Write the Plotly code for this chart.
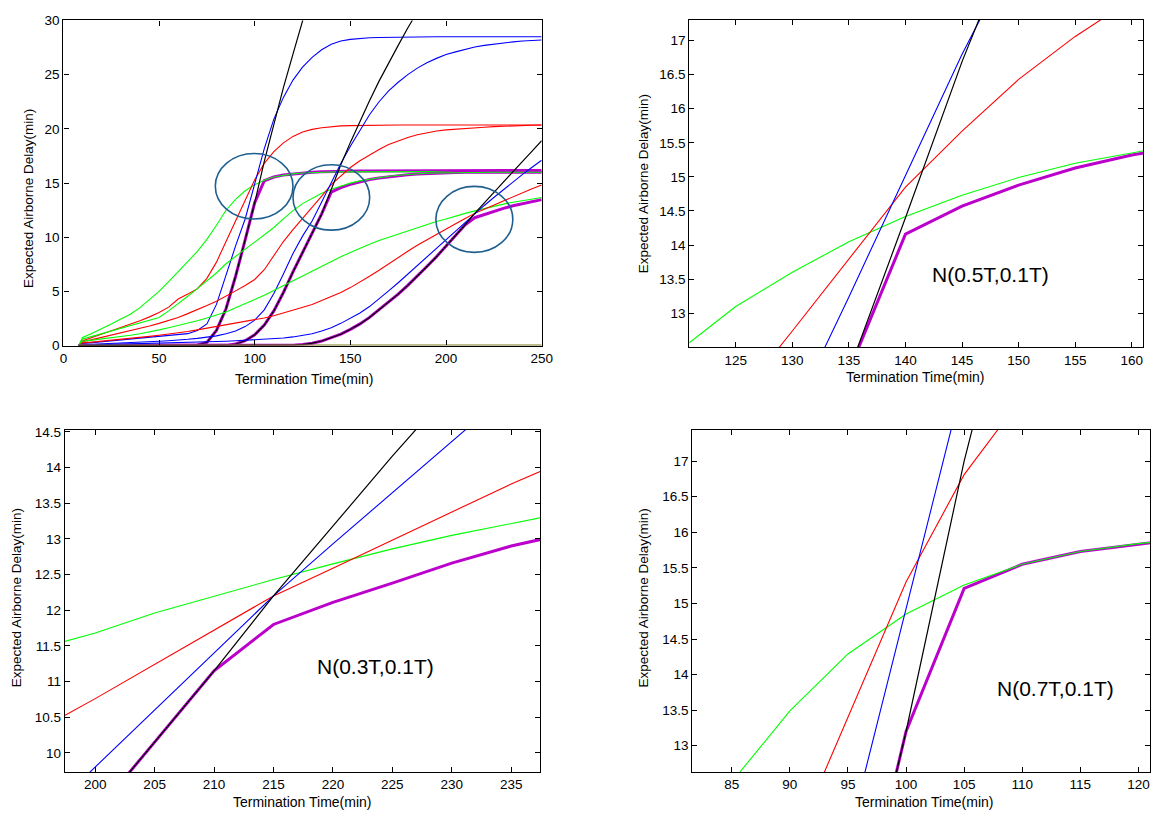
import plotly.graph_objects as go

# Termination times (min)
T = [8, 10, 15, 20, 25, 30, 35, 40, 45, 50, 55, 60, 65, 70, 75, 80, 85, 90, 95, 100,
     105, 110, 115, 120, 125, 130, 135, 140, 145, 150, 155, 160, 165, 170, 175, 180,
     185, 190, 195, 200, 205, 210, 215, 220, 225, 230, 235, 240, 245, 250]

# ---- Group N(0.7T,0.1T) ----
green_g1 = [0, 0.75, 1.15, 1.55, 2.0, 2.45, 2.9, 3.5, 4.25, 5.0, 5.9, 6.8, 7.75, 8.7, 9.8,
            11.1, 12.49, 13.49, 14.29, 14.85, 15.26, 15.55, 15.73, 15.84, 15.92, 15.97,
            16.0, 16.02, 16.03, 16.04, 16.04, 16.05, 16.05, 16.05, 16.05, 16.05, 16.05,
            16.05, 16.05, 16.05, 16.05, 16.05, 16.05, 16.05, 16.05, 16.05, 16.05, 16.05,
            16.05, 16.05]
red_g1 = [0, 0.45, 0.75, 1.05, 1.35, 1.65, 1.95, 2.3, 2.65, 3.05, 3.55, 4.3, 4.75, 5.25,
          6.2, 7.7, 9.6, 11.5, 13.4, 15.3, 16.81, 17.9, 18.7, 19.3, 19.7, 19.95, 20.1,
          20.2, 20.27, 20.3, 20.32, 20.33, 20.34, 20.35, 20.35, 20.35, 20.35, 20.35,
          20.35, 20.35, 20.35, 20.35, 20.35, 20.35, 20.35, 20.35, 20.35, 20.35, 20.35,
          20.35]
blue_g1 = [0, 0.2, 0.27, 0.35, 0.42, 0.5, 0.57, 0.65, 0.72, 0.8, 0.9, 1.0, 1.1, 1.4, 2.0,
           3.8, 6.5, 9.2, 11.68, 14.92, 18.17, 20.9, 22.9, 24.5, 25.7, 26.6, 27.3, 27.8,
           28.1, 28.25, 28.35, 28.4, 28.43, 28.45, 28.47, 28.48, 28.49, 28.5, 28.5, 28.5,
           28.5, 28.5, 28.5, 28.5, 28.5, 28.5, 28.5, 28.5, 28.5, 28.5]
black_g1 = [0, 0, 0, 0, 0, 0, 0, 0, 0, 0, 0, 0, 0, 0.05, 0.3, 1.4, 3.4, 6.4, 9.75, 13.2,
            17.0, 20.5, 23.8, 26.9, 30.0, 33.0, None, None, None, None, None, None, None,
            None, None, None, None, None, None, None, None, None, None, None, None, None,
            None, None, None, None]
magenta_g1 = [0, 0, 0, 0, 0, 0, 0, 0, 0, 0, 0, 0, 0, 0.05, 0.3, 1.4, 3.4, 6.4, 9.75, 13.2,
              15.21, 15.55, 15.73, 15.84, 15.93, 15.99, 16.04, 16.07, 16.09, 16.1, 16.11,
              16.12, 16.12, 16.13, 16.13, 16.13, 16.14, 16.14, 16.14, 16.14, 16.14, 16.15,
              16.15, 16.15, 16.15, 16.15, 16.15, 16.15, 16.15, 16.15]

# ---- Group N(0.5T,0.1T) ----
green_g2 = [0, 0.6, 0.85, 1.1, 1.35, 1.6, 1.85, 2.1, 2.35, 2.6, 3.2, 3.85, 4.55, 5.25,
            5.95, 6.7, 7.55, 8.25, 8.9, 9.55, 10.2, 10.9, 11.7, 12.45, 13.1, 13.6, 14.05,
            14.42, 14.73, 14.99, 15.2, 15.36, 15.5, 15.62, 15.72, 15.8, 15.86, 15.9,
            15.93, 15.95, 15.97, 15.98, 15.99, 16.0, 16.0, 16.0, 16.0, 16.0, 16.0, 16.0]
red_g2 = [0, 0.35, 0.55, 0.75, 0.95, 1.15, 1.35, 1.55, 1.8, 2.05, 2.3, 2.6, 2.95, 3.3, 3.7,
          4.1, 4.55, 5.05, 5.55, 6.1, 7.0, 8.3, 9.6, 10.7, 11.7, 12.74, 13.8, 14.85, 15.67,
          16.43, 17.06, 17.6, 18.1, 18.55, 18.9, 19.2, 19.45, 19.65, 19.8, 19.9, 19.98,
          20.05, 20.1, 20.15, 20.2, 20.25, 20.28, 20.31, 20.33, 20.35]
blue_g2 = [0, 0.1, 0.13, 0.16, 0.2, 0.23, 0.27, 0.3, 0.35, 0.4, 0.45, 0.5, 0.58, 0.67,
           0.78, 0.9, 1.1, 1.35, 1.75, 2.35, 3.3, 4.8, 6.6, 8.5, 10.1, 11.5, 13.24, 15.02,
           16.8, 18.4, 19.9, 21.3, 22.5, 23.5, 24.3, 25.0, 25.6, 26.1, 26.5, 26.85, 27.1,
           27.35, 27.55, 27.7, 27.82, 27.93, 28.02, 28.1, 28.15, 28.2]
black_g2 = [0, 0, 0, 0, 0, 0, 0, 0, 0, 0, 0, 0, 0, 0, 0, 0, 0.02, 0.15, 0.45, 1.0, 1.9,
            3.2, 4.9, 6.8, 8.6, 10.4, 12.15, 14.4, 16.69, 18.75, 20.7, 22.6, 24.4, 26.1,
            27.7, 29.3, 30.8, 32.3, None, None, None, None, None, None, None, None, None,
            None, None, None]
magenta_g2 = [0, 0, 0, 0, 0, 0, 0, 0, 0, 0, 0, 0, 0, 0, 0, 0, 0.02, 0.15, 0.45, 1.0, 1.9,
              3.2, 4.9, 6.8, 8.6, 10.4, 12.15, 14.16, 14.57, 14.88, 15.13, 15.32, 15.47,
              15.59, 15.69, 15.77, 15.83, 15.88, 15.92, 15.95, 15.97, 15.99, 16.0, 16.0,
              16.0, 16.0, 16.0, 16.0, 16.0, 16.0]

# ---- Group N(0.3T,0.1T) ----
green_g3 = [0, 0.4, 0.5, 0.6, 0.7, 0.8, 0.95, 1.1, 1.25, 1.45, 1.65, 1.85, 2.05, 2.3, 2.55,
            2.8, 3.1, 3.5, 3.85, 4.25, 4.65, 5.1, 5.55, 6.0, 6.45, 6.9, 7.35, 7.8, 8.2,
            8.6, 9.0, 9.35, 9.7, 10.0, 10.3, 10.6, 10.9, 11.2, 11.45, 11.68, 11.96, 12.2,
            12.43, 12.65, 12.86, 13.05, 13.22, 13.38, 13.52, 13.66]
red_g3 = [0, 0.25, 0.32, 0.4, 0.48, 0.56, 0.65, 0.75, 0.85, 0.95, 1.05, 1.15, 1.3, 1.45,
          1.6, 1.75, 1.9, 2.05, 2.2, 2.35, 2.55, 2.75, 3.0, 3.25, 3.5, 3.8, 4.15, 4.5, 4.9,
          5.35, 5.85, 6.4, 6.95, 7.55, 8.15, 8.7, 9.25, 9.75, 10.3, 10.76, 11.24, 11.72,
          12.2, 12.59, 12.98, 13.37, 13.77, 14.13, 14.48, 14.82]
blue_g3 = [0, 0.05, 0.07, 0.09, 0.11, 0.13, 0.15, 0.17, 0.19, 0.21, 0.23, 0.25, 0.28, 0.31,
           0.34, 0.37, 0.4, 0.44, 0.48, 0.52, 0.57, 0.63, 0.7, 0.8, 0.93, 1.1, 1.35, 1.65,
           2.05, 2.5, 3.0, 3.6, 4.3, 5.05, 5.8, 6.6, 7.4, 8.2, 9.0, 9.8, 10.6, 11.4, 12.2,
           12.93, 13.66, 14.39, 15.1, 15.8, 16.45, 17.1]
black_g3 = [0, 0, 0, 0, 0, 0, 0, 0, 0, 0, 0, 0, 0, 0, 0, 0, 0, 0, 0, 0, 0, 0, 0, 0.03, 0.1,
            0.22, 0.42, 0.7, 1.05, 1.5, 2.0, 2.6, 3.3, 4.0, 4.75, 5.55, 6.4, 7.3, 8.2,
            9.15, 10.15, 11.15, 12.2, 13.18, 14.16, 15.1, 16.05, 17.0, 17.95, 18.9]
magenta_g3 = [0, 0, 0, 0, 0, 0, 0, 0, 0, 0, 0, 0, 0, 0, 0, 0, 0, 0, 0, 0, 0, 0, 0, 0.03,
              0.1, 0.22, 0.42, 0.7, 1.05, 1.5, 2.0, 2.6, 3.3, 4.0, 4.75, 5.55, 6.4, 7.3,
              8.2, 9.15, 10.15, 11.15, 11.8, 12.11, 12.38, 12.66, 12.9, 13.07, 13.27, 13.47]

baseline = [0] * len(T)

groups = {
    "g1": dict(green=green_g1, red=red_g1, blue=blue_g1, black=black_g1, magenta=magenta_g1),
    "g2": dict(green=green_g2, red=red_g2, blue=blue_g2, black=black_g2, magenta=magenta_g2),
    "g3": dict(green=green_g3, red=red_g3, blue=blue_g3, black=black_g3, magenta=magenta_g3),
}
for g in groups.values():
    for v in g.values():
        assert len(v) == len(T)

# Panel labels / annotation texts
panel_labels = {"g2": "N(0.5T,0.1T)", "g3": "N(0.3T,0.1T)", "g1": "N(0.7T,0.1T)"}
x_title = "Termination Time(min)"
y_title = "Expected Airborne Delay(min)"

COL = dict(green="#00FF00", red="#FF0000", blue="#0000FF", black="#000000", magenta="#BB00CC")
WID = dict(green=1.1, red=1.1, blue=1.1, black=1.2, magenta=3)
ORDER = ["magenta", "green", "red", "blue", "black"]

W, H = 1162, 820
def dom_x(a, b):
    return [a / W, b / W]
def dom_y(top, bottom):
    return [1 - bottom / H, 1 - top / H]

fig = go.Figure()

# main panel: all groups
for key in ["g1", "g2", "g3"]:
    for c in ORDER:
        fig.add_trace(go.Scatter(x=T, y=groups[key][c], mode="lines", xaxis="x", yaxis="y",
                                 line=dict(color=COL[c], width=WID[c]), showlegend=False,
                                 hoverinfo="skip"))
fig.add_trace(go.Scatter(x=T, y=baseline, mode="lines", xaxis="x", yaxis="y",
                         line=dict(color="#7A7A20", width=2), showlegend=False, hoverinfo="skip"))

# zoomed panels
for key, ax in [("g2", "2"), ("g3", "3"), ("g1", "4")]:
    for c in ORDER:
        fig.add_trace(go.Scatter(x=T, y=groups[key][c], mode="lines", xaxis="x" + ax,
                                 yaxis="y" + ax, line=dict(color=COL[c], width=WID[c]),
                                 showlegend=False, hoverinfo="skip"))

font_family = "Liberation Sans, Arial, sans-serif"
axis_common = dict(showline=True, linecolor="black", linewidth=1.2, mirror="ticks",
                   ticks="inside", ticklen=5, tickcolor="black", showgrid=False,
                   zeroline=False, tickfont=dict(size=13.5, color="black", family=font_family),
                   fixedrange=True)

def zoom_ticks(lo, hi):
    vals = []
    v = lo
    while v <= hi + 1e-9:
        vals.append(round(v, 2))
        v += 0.5
    return vals

fig.update_layout(
    width=W, height=H, margin=dict(l=0, r=0, t=0, b=0),
    paper_bgcolor="white", plot_bgcolor="white",
    font=dict(family=font_family, color="black"),
    xaxis=dict(domain=dom_x(60.2, 544.7), range=[0, 250], dtick=50, anchor="y", **axis_common),
    yaxis=dict(domain=dom_y(13.7, 344.9), range=[0, 30], dtick=5, anchor="x", **axis_common),
    xaxis2=dict(domain=dom_x(694.3, 1154), range=[120.9, 161], tick0=125, dtick=5, anchor="y2", **axis_common),
    yaxis2=dict(domain=dom_y(13.3, 346.7), range=[12.5, 17.3], tickvals=zoom_ticks(13, 17), anchor="x2", **axis_common),
    xaxis3=dict(domain=dom_x(61.7, 543.3), range=[197.45, 237.45], tick0=200, dtick=5, anchor="y3", **axis_common),
    yaxis3=dict(domain=dom_y(430.7, 779.3), range=[9.73, 14.53], tickvals=zoom_ticks(10, 14.5), anchor="x3", **axis_common),
    xaxis4=dict(domain=dom_x(697.3, 1161), range=[81.6, 121], tick0=85, dtick=5, anchor="y4", **axis_common),
    yaxis4=dict(domain=dom_y(430.7, 779.3), range=[12.63, 17.44], tickvals=zoom_ticks(13, 17), anchor="x4", **axis_common),
)

# circles highlighting the switch regions in the main panel
circle_col = "#1F5F8F"
for (x0, x1, y0, y1) in [(79.4, 120.0, 11.68, 17.72), (120.0, 160.1, 10.65, 16.68),
                         (194.7, 234.9, 8.6, 14.69)]:
    fig.add_shape(type="circle", xref="x", yref="y", x0=x0, x1=x1, y0=y0, y1=y1,
                  line=dict(color=circle_col, width=1.6))

ann = []
# axis titles
for (px, py) in [(303.5, 378.5), (923, 377), (302, 810), (931.7, 810)]:
    ann.append(dict(text=x_title, x=px / W, y=1 - py / H, xref="paper", yref="paper",
                    showarrow=False, xanchor="center", yanchor="middle",
                    font=dict(size=14, color="black", family=font_family)))
for (px, py) in [(25, 195), (648, 180), (13.5, 602), (648, 602)]:
    ann.append(dict(text=y_title, x=px / W, y=1 - py / H, xref="paper", yref="paper",
                    showarrow=False, xanchor="center", yanchor="middle", textangle=-90,
                    font=dict(size=13.5, color="black", family=font_family)))
# distribution labels
for key, (px, py) in [("g2", (999, 272)), ("g3", (376, 672)), ("g1", (1065.5, 694))]:
    ann.append(dict(text=panel_labels[key], x=px / W, y=1 - py / H, xref="paper", yref="paper",
                    showarrow=False, xanchor="center", yanchor="middle",
                    font=dict(size=21, color="black", family=font_family)))
fig.update_layout(annotations=ann)

fig.write_html("out.html", config={"displayModeBar": False},
               post_script="document.body.style.margin='0';document.body.style.overflow='hidden';")
